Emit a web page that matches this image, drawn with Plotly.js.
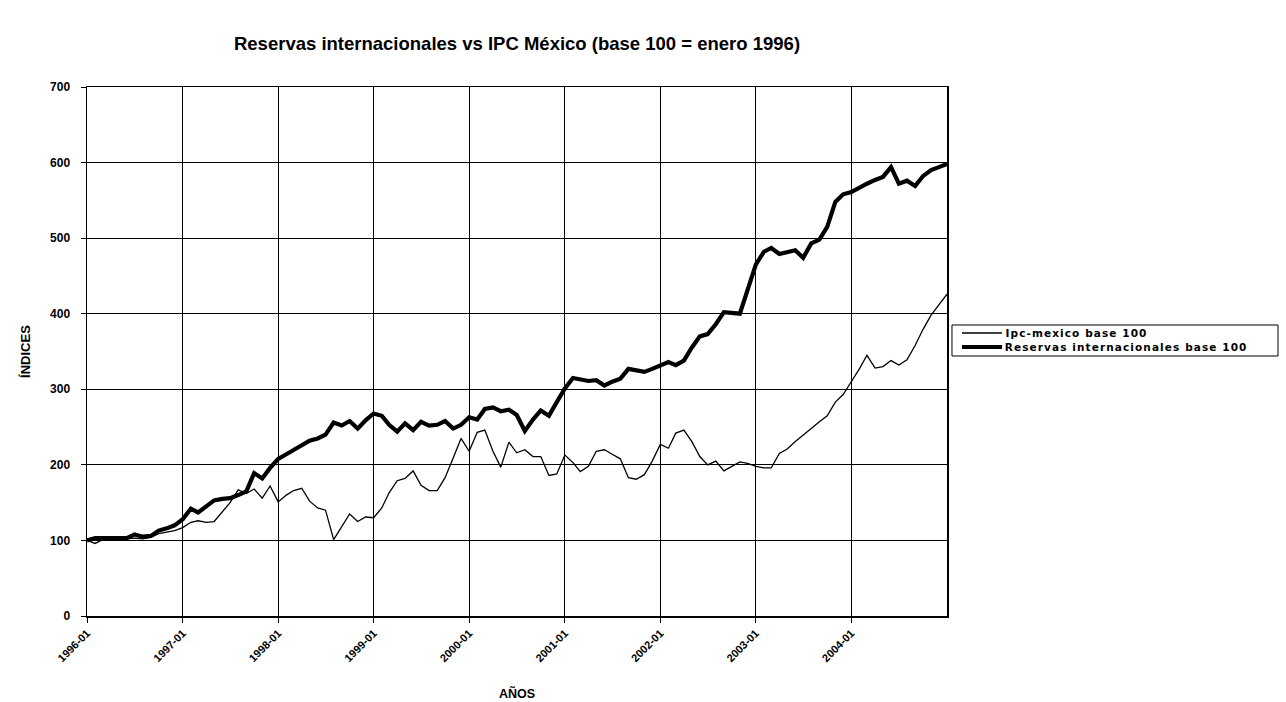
<!DOCTYPE html>
<html>
<head>
<meta charset="utf-8">
<script src="https://cdn.plot.ly/plotly-3.0.1.min.js"></script>
<style>
html,body{margin:0;padding:0;background:#fff;}
#chart{width:1286px;height:702px;}
#chart .annotation-text{letter-spacing:1.1px;}
</style>
</head>
<body>
<div id="chart"></div>
<script>
// Monthly observations, 1996-01 .. 2005-01
var startYear = 1996;
var yearTickLabels = ["1996-01","1997-01","1998-01","1999-01","2000-01","2001-01","2002-01","2003-01","2004-01"];

var ipcMexico = [
  100,96,101,101,101,102,103,102,104,109,111,113,
  117,124,126,124,125,137,150,167,162,168,156,172,
  151,160,166,169,152,143,140,101,119,135,125,131,
  130,143,163,179,182,192,173,166,166,183,209,235,
  218,243,246,218,197,230,216,220,211,211,186,188,
  213,203,191,198,218,220,214,208,183,181,187,205,
  227,222,242,246,231,211,200,205,192,198,204,202,
  198,196,196,215,221,231,240,248,257,265,283,293,
  310,327,345,328,330,338,332,339,358,379,398,412,
  426
];

var reservas = [
  100,103,103,103,103,103,108,105,106,113,116,120,
  128,142,137,146,153,155,156,160,165,189,182,196,
  208,214,220,227,232,235,240,256,252,258,248,259,
  268,265,253,244,255,246,257,252,253,258,248,253,
  263,260,274,276,271,273,266,245,260,272,265,283,
  301,315,313,311,312,305,310,314,327,325,323,327,
  332,336,332,338,355,370,373,386,402,401,400,432,
  465,482,487,479,482,484,474,493,498,515,548,558,
  561,567,572,577,581,594,572,576,569,582,590,594,
  598
];

var seriesNames = ["Ipc-mexico base 100", "Reservas internacionales base 100"];
var seriesWidths = [1.3, 4.2];

// build month dates from the series length
var dates = [];
for (var i = 0; i < reservas.length; i++) {
  var y = startYear + Math.floor(i / 12);
  var m = (i % 12) + 1;
  dates.push(y + "-" + (m < 10 ? "0" + m : m) + "-01");
}
var tickVals = yearTickLabels.map(function(t){ return t + "-01"; });

var FONT = "Arial, 'Liberation Sans', Helvetica, sans-serif";
var LFONT = "'DejaVu Sans', Arial, sans-serif";
var LETTER_SP = 1.1, PLOT_W = 860;

var traces = [
  {x: dates, y: ipcMexico, name: seriesNames[0], type: "scatter", mode: "lines",
   line: {color: "#000", width: seriesWidths[0]}, showlegend: false},
  {x: dates, y: reservas, name: seriesNames[1], type: "scatter", mode: "lines",
   line: {color: "#000", width: seriesWidths[1]}, showlegend: false}
];

// Legend box drawn in paper coordinates (compact, like the original)
var legRows = [0.535, 0.5085];
var shapes = [
  {type: "rect", xref: "paper", yref: "paper", x0: 1.0058, x1: 1.3849, y0: 0.4915, y1: 0.5501,
   line: {color: "#000", width: 1}, fillcolor: "#fff"}
];
var annotations = [];
seriesNames.forEach(function(n, k){
  shapes.push({type: "line", xref: "paper", yref: "paper", x0: 1.0174, x1: 1.064,
    y0: legRows[k], y1: legRows[k], line: {color: "#000", width: seriesWidths[k]}});
  annotations.push({xref: "paper", yref: "paper",
    x: 1.0655 + (n.length * LETTER_SP / 2) / PLOT_W, y: legRows[k],
    xanchor: "left", yanchor: "middle", showarrow: false, text: "<b>" + n + "</b>",
    font: {family: LFONT, size: 10.5, color: "#000"}});
});

var layout = {
  width: 1286, height: 702,
  margin: {l: 87, r: 339, t: 87, b: 86},
  paper_bgcolor: "#fff", plot_bgcolor: "#fff",
  font: {family: FONT, color: "#000"},
  title: {
    text: "<b>Reservas internacionales vs IPC México (base 100 = enero 1996)</b>",
    font: {family: FONT, size: 18.5, color: "#000"},
    x: 0.5, xref: "paper", xanchor: "center",
    y: 33, yref: "container", yanchor: "middle"
  },
  xaxis: {
    type: "date",
    range: ["1996-01-01", "2005-01-01"],
    tickmode: "array",
    tickvals: tickVals,
    ticktext: yearTickLabels.map(function(t){ return "<b>" + t + "</b>"; }),
    tickangle: -45,
    tickfont: {family: FONT, size: 11, color: "#000"},
    ticks: "outside", ticklen: 5, tickcolor: "#000",
    showgrid: true, gridcolor: "#000", gridwidth: 1,
    showline: true, linecolor: "#000", linewidth: 1.5, mirror: true,
    zeroline: false,
    title: {text: "<b>AÑOS</b>", font: {family: FONT, size: 12.5, color: "#000"}, standoff: 26}
  },
  yaxis: {
    range: [0, 700],
    tickmode: "linear", tick0: 0, dtick: 100,
    tickfont: {family: FONT, size: 12, color: "#000"},
    tickprefix: "<b>", ticksuffix: "</b>",
    ticks: "outside", ticklen: 5, tickcolor: "#000",
    ticklabelstandoff: 8,
    showgrid: true, gridcolor: "#000", gridwidth: 1,
    showline: true, linecolor: "#000", linewidth: 1.5, mirror: true,
    zeroline: false,
    title: {text: "<b>ÍNDICES</b>", font: {family: FONT, size: 13, color: "#000"}, standoff: 16}
  },
  showlegend: false,
  shapes: shapes,
  annotations: annotations
};

Plotly.newPlot("chart", traces, layout, {displayModeBar: false, staticPlot: true});
</script>
</body>
</html>
